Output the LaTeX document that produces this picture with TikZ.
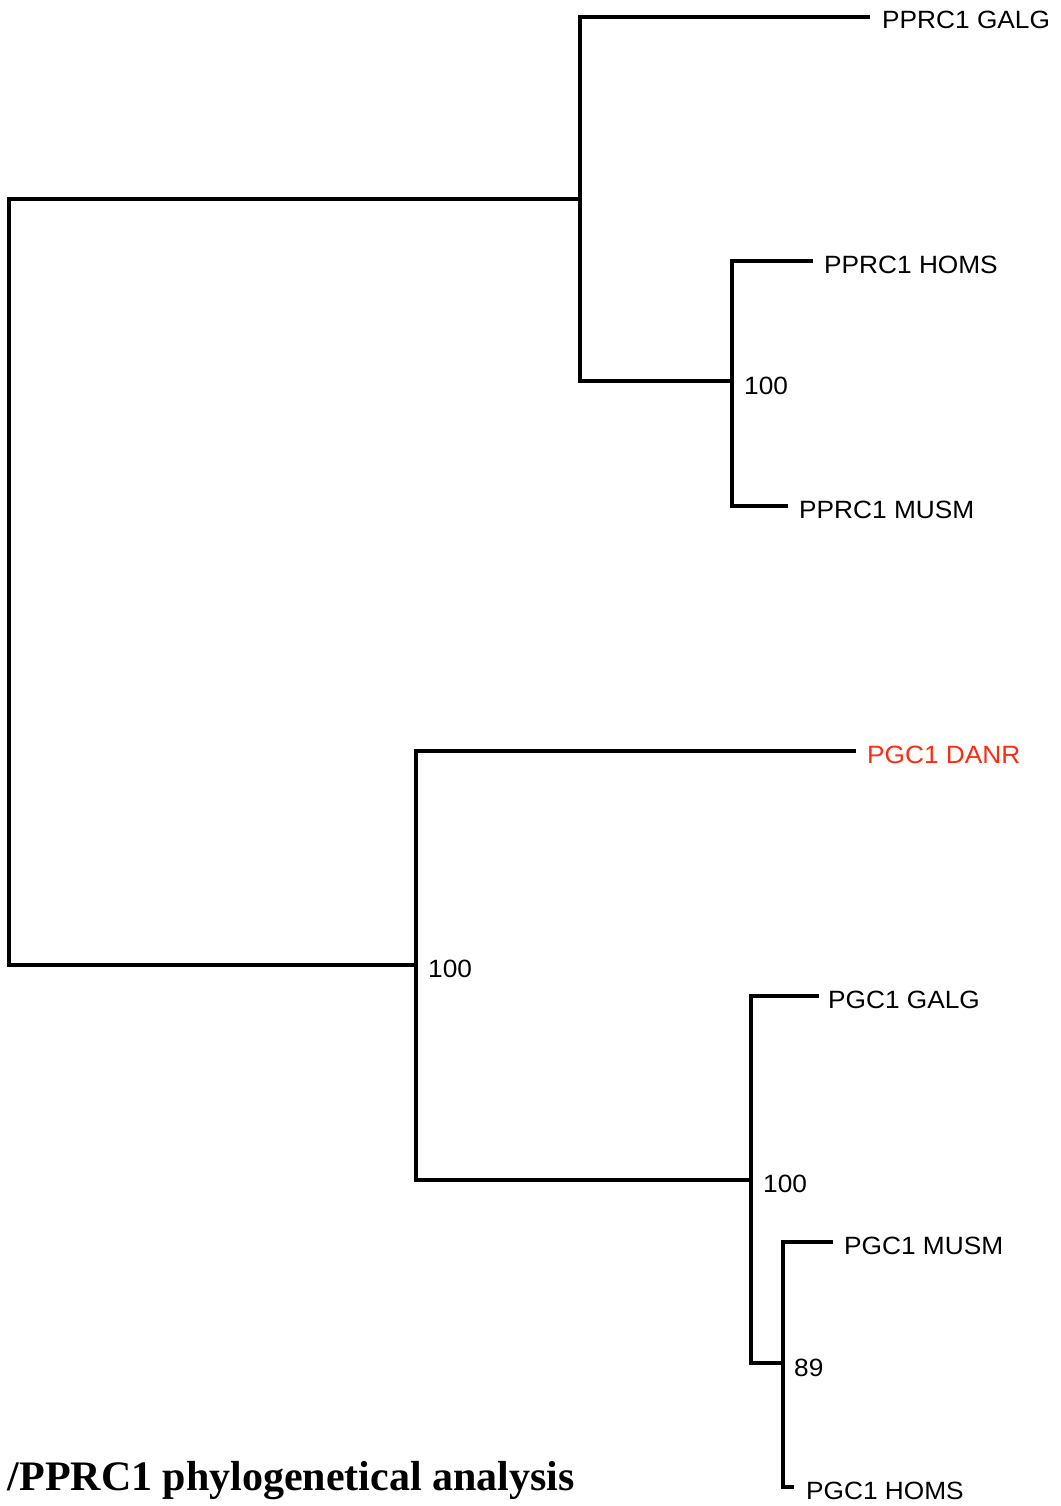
\documentclass[tikz,border=0pt]{standalone}
\usepackage{fontspec}
\setmainfont{Liberation Sans}[FakeStretch=1.05]
\newfontfamily\titlefont{Liberation Serif}
\definecolor{danr}{HTML}{FF2A12}
\begin{document}
\begin{tikzpicture}[x=1pt,y=-1pt,
  br/.style={line width=3.6pt,line cap=rect,line join=miter},
  leaf/.style={anchor=base west,inner sep=0pt,font=\fontsize{25}{29}\selectfont},
  boot/.style={anchor=base west,inner sep=0pt,font=\fontsize{25}{29}\selectfont}]
\useasboundingbox (0,0) rectangle (1060,1506);
% internal nodes
\coordinate (root) at (9,582);
\coordinate (nA) at (580,199);
\coordinate (nB) at (732,381);
\coordinate (nC) at (416,965);
\coordinate (nD) at (751,1180);
\coordinate (nE) at (783,1363);
% leaf tips
\coordinate (t1) at (868,17);
\coordinate (t2) at (811,261);
\coordinate (t3) at (786,506);
\coordinate (t4) at (854,751);
\coordinate (t5) at (817,996);
\coordinate (t6) at (831,1242);
\coordinate (t7) at (792,1487);
% labels
\node[leaf] (l1) at (882,29) {PPRC1 GALG};
\node[leaf] (l2) at (824,273) {PPRC1 HOMS};
\node[leaf] (l3) at (799,518) {PPRC1 MUSM};
\node[leaf,text=danr] (l4) at (867,763) {PGC1 DANR};
\node[leaf] (l5) at (828,1008) {PGC1 GALG};
\node[leaf] (l6) at (844,1254) {PGC1 MUSM};
\node[leaf] (l7) at (806,1499) {PGC1 HOMS};
\node[boot] (b1) at (744,394) {100};
\node[boot] (b2) at (428,977) {100};
\node[boot] (b3) at (763,1192) {100};
\node[boot] (b4) at (794,1376) {89};
% branches
\draw[br] (root |- nA) -- (nA);
\draw[br] (root |- nC) -- (nC);
\draw[br] (root |- nA) -- (root |- nC);
\draw[br] (nA |- t1) -- (nA |- nB);
\draw[br] (nA |- t1) -- (t1);
\draw[br] (nA |- nB) -- (nB);
\draw[br] (nB |- t2) -- (nB |- t3);
\draw[br] (nB |- t2) -- (t2);
\draw[br] (nB |- t3) -- (t3);
\draw[br] (nC |- t4) -- (nC |- nD);
\draw[br] (nC |- t4) -- (t4);
\draw[br] (nC |- nD) -- (nD);
\draw[br] (nD |- t5) -- (nD |- nE);
\draw[br] (nD |- t5) -- (t5);
\draw[br] (nD |- nE) -- (nE);
\draw[br] (nE |- t6) -- (nE |- t7);
\draw[br] (nE |- t6) -- (t6);
\draw[br] (nE |- t7) -- (t7);
% title
\node[anchor=base east,inner sep=0pt,font=\titlefont\bfseries\fontsize{42}{48}\selectfont] (title) at (575,1490) {/PPRC1 phylogenetical analysis};
\end{tikzpicture}
\end{document}
